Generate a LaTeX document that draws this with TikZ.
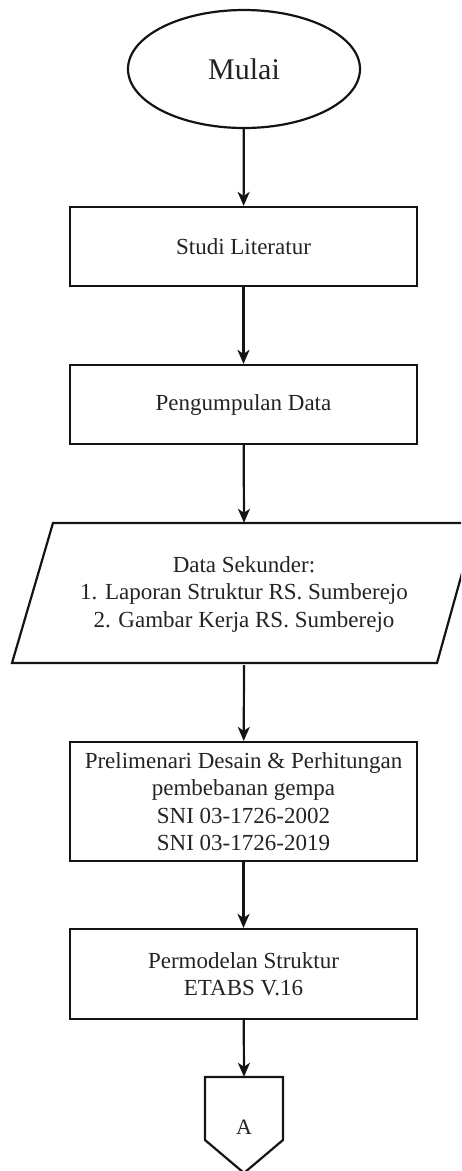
\documentclass[tikz,border=0pt]{standalone}
\usepackage{fontspec}
\setmainfont{Liberation Serif}
\usetikzlibrary{shapes.geometric,arrows.meta}
\definecolor{txt}{RGB}{35,35,35}
\definecolor{ln}{RGB}{20,20,20}
\tikzset{
  box/.style={draw=ln,line width=2.2pt,rectangle,minimum width=347pt,align=center,
    text=txt,font=\fontsize{23}{27.5}\selectfont,inner sep=0pt},
  startnode/.style={draw=ln,line width=2.2pt,ellipse,minimum width=232pt,minimum height=118pt,
    text=txt,font=\fontsize{30}{34}\selectfont,inner sep=0pt},
  plain/.style={align=center,text=txt,font=\fontsize{23}{27.5}\selectfont,inner sep=0pt},
  shapeline/.style={draw=ln,line width=2.2pt,line join=miter},
  arr/.style={draw=ln,line width=2.2pt,-{Stealth[length=14pt,width=12pt,inset=4pt]}}
}
\begin{document}
\begin{tikzpicture}[x=1pt,y=-1pt]
\useasboundingbox (0,0) rectangle (461,1171);
\clip (0,0) rectangle (461,1171);
\node[startnode] (mulai) at (244,69) {Mulai};
\node[box,minimum height=79pt] (studi) at (243.5,246.5) {Studi Literatur};
\node[box,minimum height=79pt] (peng) at (243.5,404.5) {Pengumpulan Data};
\node[plain,minimum width=300pt,minimum height=142pt] (data) at (244,594)
  {Data Sekunder:\\1. Laporan Struktur RS. Sumberejo\\2. Gambar Kerja RS. Sumberejo};
\draw[shapeline] (53,523) -- (476,523) -- (437,663) -- (12,663) -- cycle;
\node[box,minimum height=119pt] (prelim) at (243.5,801.5)
  {Prelimenari Desain \& Perhitungan\\pembebanan gempa\\SNI 03-1726-2002\\SNI 03-1726-2019};
\node[box,minimum height=90pt] (perm) at (243.5,974) {Permodelan Struktur\\ETABS V.16};
\node[plain,font=\fontsize{22}{26}\selectfont,minimum width=78pt,minimum height=100pt] (conn) at (244,1127) {A};
\draw[shapeline] (205,1077) -- (283,1077) -- (283,1140) -- (244,1173) -- (205,1140) -- cycle;
\draw[arr] (mulai) -- (studi);
\draw[arr] (studi) -- (peng);
\draw[arr] (peng) -- (data.north);
\draw[arr] (data.south) -- (prelim);
\draw[arr] (prelim) -- (perm);
\draw[arr] (perm) -- (conn.north);
\end{tikzpicture}
\end{document}
